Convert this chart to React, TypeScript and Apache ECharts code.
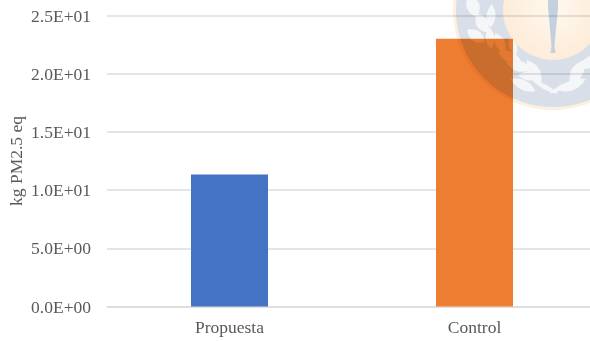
import React, { useEffect, useRef } from "react";
import * as echarts from "echarts";

const categories = ["Propuesta", "Control"];
const impactValues = [11.35, 23.0];
const barColors = ["#4472C4", "#ED7D31"];
const yAxisTicks = [0, 5, 10, 15, 20, 25];
const yAxisName = "kg PM2.5 eq";

const FONT = '"Liberation Serif", "Times New Roman", serif';
const TEXT = "#595959";
const GRID = "#DCDCDC";

// Crest geometry: centre of the seal and the radii of its band.
const CX = 553;
const CY = 10;
const OUTER_R = 97;
const INNER_R = 50;

// Laurel leaves on the band: x, y, length, width, angle in degrees.
const laurel: number[][] = [
  [473, 6, 24, 13, 70], [482, 23, 22, 12, 60], [491, 16, 24, 9, 95],
  [476, 36, 22, 11, 35], [490, 38, 22, 9, 85], [500, 43, 22, 10, 65],
  [513, 46, 18, 8, 70], [510, 57, 26, 11, 25], [519, 66, 26, 11, 15],
  [529, 76, 22, 9, 5], [523, 85, 28, 10, 25], [534, 72, 28, 12, 60],
  [577, 72, 28, 12, -60], [590, 62, 26, 11, -30], [573, 85, 28, 10, -25],
  [545, 87, 30, 5, 28], [562, 87, 30, 5, -28],
];

const leafPath = ([x, y, len, wid, deg]: number[]) => {
  const a = (deg * Math.PI) / 180;
  const dx = (Math.cos(a) * len) / 2;
  const dy = (Math.sin(a) * len) / 2;
  const nx = -Math.sin(a) * wid;
  const ny = Math.cos(a) * wid;
  const p = (v: number) => v.toFixed(1);
  return `M${p(x - dx)} ${p(y - dy)}Q${p(x - nx)} ${p(y - ny)} ${p(x + dx)} ${p(y + dy)}Q${p(x + nx)} ${p(y + ny)} ${p(x - dx)} ${p(y - dy)}Z`;
};

const daggerPath = `M${CX - 5} -2L${CX + 5} -2L${CX + 5} 8L${CX + 1.5} 46L${CX + 2.5} 53L${CX - 2.5} 53L${CX - 1.5} 46L${CX - 5} 8Z`;

echarts.graphic.registerShape("crestLeaves", echarts.graphic.extendPath(laurel.map(leafPath).join(""), {}));
echarts.graphic.registerShape("crestDagger", echarts.graphic.extendPath(daggerPath, {}));

// The seal's layers; its whole layer is multiplied onto the plot below it.
function crest() {
  return [
    { type: "circle", shape: { cx: CX, cy: CY, r: OUTER_R + 3 }, style: { fill: "#FDF0DE" }, z: 1 },
    { type: "circle", shape: { cx: CX, cy: CY, r: OUTER_R }, style: { fill: "#D8DFE8" }, z: 2 },
    { type: "crestLeaves", style: { fill: "#F5F6F8" }, z: 3 },
    {
      type: "circle",
      shape: { cx: CX, cy: CY, r: INNER_R },
      style: {
        fill: new echarts.graphic.RadialGradient(0.5, 0.5, 0.5, [
          { offset: 0, color: "#FFF8EF" },
          { offset: 1, color: "#FDECD8" },
        ]),
      },
      z: 4,
    },
    { type: "crestDagger", style: { fill: "#C4D0DE" }, z: 5 },
  ];
}

export default function App() {
  const ref = useRef<HTMLDivElement>(null);
  const sealRef = useRef<HTMLDivElement>(null);

  useEffect(() => {
    const chart = echarts.init(ref.current!, undefined, { renderer: "svg" });
    chart.setOption({
      animation: false,
      backgroundColor: "#fff",
      grid: { left: 107, right: 0, top: 15.5, bottom: 34.5, outerBoundsMode: "none" },
      xAxis: {
        type: "category",
        data: categories,
        axisTick: { show: false },
        axisLine: { lineStyle: { color: GRID, width: 1.5 } },
        axisLabel: { color: TEXT, fontFamily: FONT, fontSize: 17.5, margin: 11 },
      },
      yAxis: {
        type: "value",
        min: yAxisTicks[0],
        max: yAxisTicks[yAxisTicks.length - 1],
        interval: 5,
        name: yAxisName,
        nameLocation: "middle",
        nameGap: 82,
        nameMoveOverlap: false,
        nameTextStyle: { color: TEXT, fontFamily: FONT, fontSize: 17.5 },
        axisLine: { show: false },
        axisTick: { show: false },
        splitLine: { lineStyle: { color: GRID, width: 1.5 } },
        axisLabel: {
          color: TEXT,
          fontFamily: FONT,
          fontSize: 17.5,
          margin: 16,
          formatter: (v: number) => v.toExponential(1).replace(/e([+-])(\d)$/, "E$10$2").toUpperCase(),
        },
      },
      series: [
        {
          type: "bar",
          barWidth: 77,
          data: impactValues.map((value, i) => ({ value, itemStyle: { color: barColors[i] } })),
        },
      ],
    });

    const seal = echarts.init(sealRef.current!, undefined, { renderer: "svg" });
    seal.setOption({ animation: false, graphic: crest() });

    return () => {
      chart.dispose();
      seal.dispose();
    };
  }, []);

  return (
    <div style={{ position: "fixed", left: 0, top: 0, width: 590, height: 341, overflow: "hidden" }}>
      <div ref={ref} style={{ position: "absolute", left: 0, top: 0, width: 597, height: 341 }} />
      <div
        ref={sealRef}
        style={{ position: "absolute", left: 0, top: 0, width: 590, height: 341, mixBlendMode: "multiply" }}
      />
    </div>
  );
}
